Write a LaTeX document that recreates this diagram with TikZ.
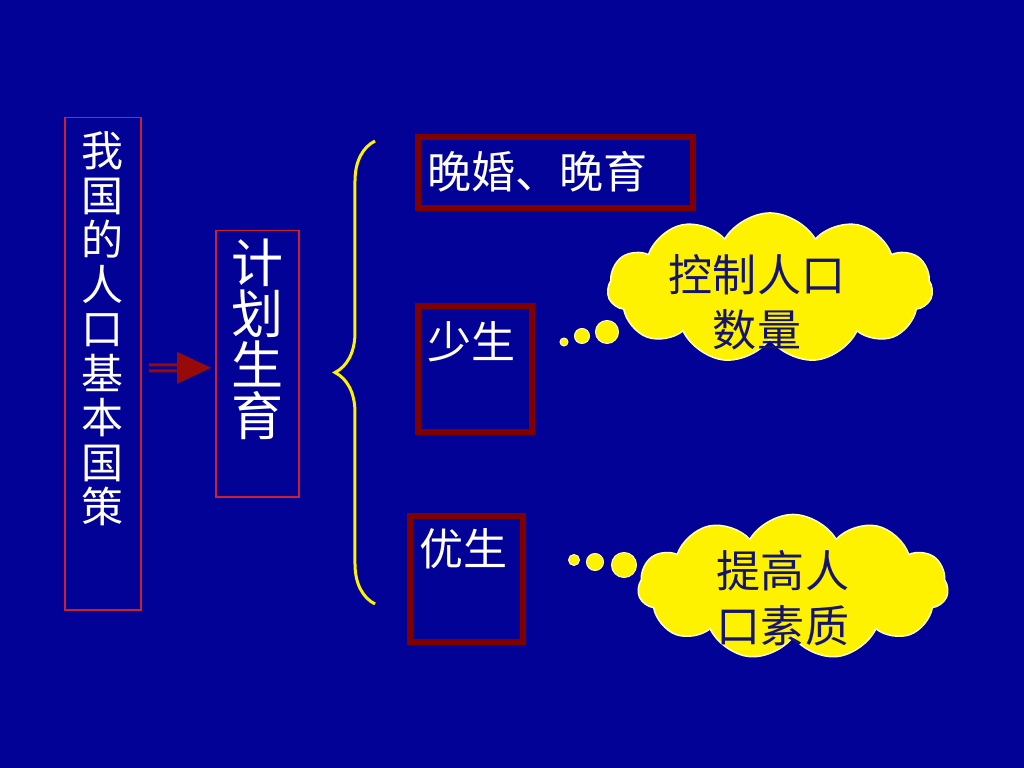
\documentclass[tikz,border=0pt]{standalone}
\usepackage{fontspec}
\usepackage{tikz}
\usetikzlibrary{shapes.symbols, arrows.meta, positioning, decorations.pathreplacing}
\newfontfamily\cjk{Noto Sans CJK SC}
\definecolor{slidebg}{RGB}{2,2,150}
\definecolor{thinred}{RGB}{205,30,50}
\definecolor{darkred}{RGB}{128,0,0}
\definecolor{arrowred}{RGB}{150,10,10}
\definecolor{cloudedge}{RGB}{255,255,190}
\definecolor{cloudtext}{RGB}{20,20,110}

\begin{document}
\begin{tikzpicture}[
            x=0.01cm, y=-0.01cm,
            thinbox/.style={rectangle, draw=thinred, line width=0.015cm, inner sep=0, align=center, text=white, font=\cjk},
            thickbox/.style={rectangle, draw=darkred, line width=0.06cm, inner ysep=0, inner xsep=0.09cm, anchor=north west, text=white, font=\cjk\fontsize{0.44cm}{0.5cm}\selectfont},
            thought/.style={cloud, cloud puffs=11, cloud puff arc=120, fill=yellow, draw=cloudedge, line width=0.015cm, inner sep=0, minimum width=3.25cm, minimum height=1.5cm},
            thoughttext/.style={align=center, text=cloudtext, font=\cjk\fontsize{0.44cm}{0.55cm}\selectfont},
            bubble/.style={circle, fill=yellow, draw=cloudedge, line width=0.01cm, inner sep=0},
            dblarrow/.style={-{Triangle[length=0.34cm, width=0.31cm]}, arrowred, line width=0.03cm, double=slidebg, double distance=0.03cm},
            bracestyle/.style={decorate, decoration={brace, amplitude=0.4cm}, yellow, line width=0.03cm}
        ]

% background
            \fill[slidebg] (0,0) rectangle (1024,768);
            \useasboundingbox (0,0) rectangle (1024,768);

% Policy boxes
            \node[thinbox, minimum width=0.76cm, text height=4.05cm, text depth=0.87cm,
                  font=\cjk\fontsize{0.42cm}{0.445cm}\selectfont] (policy) at (103,117)
                  [anchor=north] {我\\国\\的\\人\\口\\基\\本\\国\\策};
            \node[thinbox, minimum width=0.83cm, text height=2.05cm, text depth=0.61cm,
                  font=\cjk\fontsize{0.52cm}{0.51cm}\selectfont] (plan) at (257.5,230)
                  [anchor=north] {计\\划\\生\\育};

            \draw[dblarrow, shorten <=0.07cm, shorten >=0.04cm] ([yshift=-0.04cm]policy.east) -- ([yshift=-0.04cm]plan.west);

% Brace
            \coordinate (braceTop) at (375,141);
            \coordinate (braceBot) at (375,604);
            \draw[bracestyle] (braceBot) -- (braceTop);

% Measures
            \node[thickbox, text width=2.57cm, text height=0.51cm, text depth=0.20cm] (late) at (415,134) {晚婚、晚育};
            \node[thickbox, text width=0.96cm, text height=0.52cm, text depth=0.74cm] (fewer) at (415,303) {少生};
            \node[thickbox, text width=0.95cm, text height=0.49cm, text depth=0.77cm] (better) at (407,513) {优生};

% Thought clouds
            \node[thought] (quantity) at (770,288) {};
            \node[thoughttext] (quantitytxt) at (757,302) {控制人口\\数量};
            \node[bubble, minimum size=0.08cm] (qdotA) at (564,342) {};
            \node[bubble, minimum size=0.15cm] (qdotB) at (582,336) {};
            \node[bubble, minimum size=0.23cm] (qdotC) at (607,332) {};

            \node[thought, minimum width=3.1cm, minimum height=1.45cm] (quality) at (793,587) {};
            \node[thoughttext] (qualitytxt) at (783,598) {提高人\\口素质};
            \node[bubble, minimum size=0.11cm] (rdotA) at (574,560) {};
            \node[bubble, minimum size=0.17cm] (rdotB) at (595,562) {};
            \node[bubble, minimum size=0.25cm] (rdotC) at (624,565) {};

        \end{tikzpicture}
\end{document}
